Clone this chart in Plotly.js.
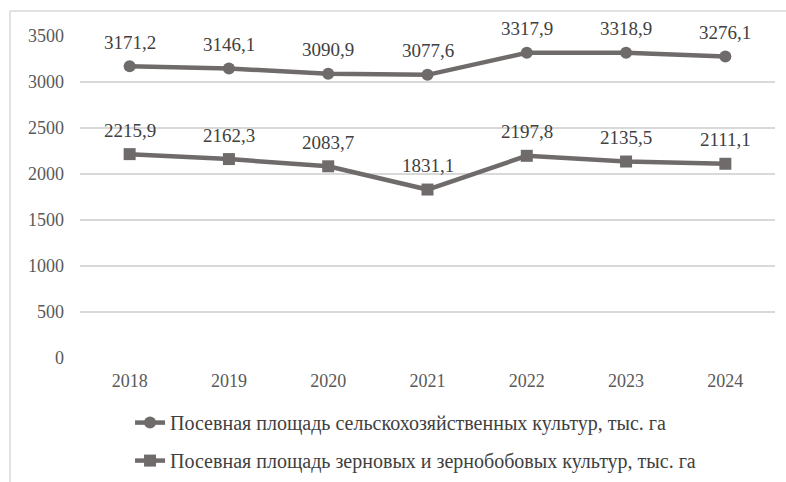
<!DOCTYPE html>
<html>
<head>
<meta charset="utf-8">
<script src="https://cdn.plot.ly/plotly-3.0.1.min.js"></script>
<style>html,body{margin:0;padding:0;background:#fff;}#chart{width:786px;height:482px;}</style>
</head>
<body>
<div id="chart"></div>
<script>
const years = ['2018', '2019', '2020', '2021', '2022', '2023', '2024'];
const totalArea = [3171.2, 3146.1, 3090.9, 3077.6, 3317.9, 3318.9, 3276.1];
const grainArea = [2215.9, 2162.3, 2083.7, 1831.1, 2197.8, 2135.5, 2111.1];
const seriesNames = [
  'Посевная площадь сельскохозяйственных культур, тыс. га',
  'Посевная площадь зерновых и зернобобовых культур, тыс. га'
];
const yTicks = [0, 500, 1000, 1500, 2000, 2500, 3000, 3500];

const lineColor = '#706b6b';
const fmt = v => v.toFixed(1).replace('.', ',');
const font = 'Liberation Serif';

const traces = [
  {x: years, y: totalArea, name: seriesNames[0], type: 'scatter', mode: 'lines+markers', legendgroup: 'a',
   line: {color: lineColor, width: 4.5}, marker: {symbol: 'circle', size: 12, color: lineColor}},
  {x: years, y: grainArea, name: seriesNames[1], type: 'scatter', mode: 'lines+markers', legendgroup: 'b',
   line: {color: lineColor, width: 4.5}, marker: {symbol: 'square', size: 12, color: lineColor}}
];

const annotations = [];
[totalArea, grainArea].forEach(arr => {
  arr.forEach((v, i) => {
    annotations.push({x: i, y: v, xref: 'x', yref: 'y', text: fmt(v), showarrow: false,
      yshift: 24, font: {family: font, size: 19, color: '#404040'}});
  });
});

const layout = {
  width: 786, height: 482,
  margin: {l: 80, r: 11, t: 36, b: 124, autoexpand: false},
  paper_bgcolor: '#fff', plot_bgcolor: '#fff',
  font: {family: font, size: 18, color: '#595959'},
  xaxis: {type: 'category', range: [-0.5, 6.5], showgrid: false, zeroline: false, showline: false,
          ticks: '', ticklabelstandoff: 10, tickfont: {family: font, size: 18, color: '#595959'}, fixedrange: true},
  yaxis: {range: [0, 3500], tickvals: yTicks, ticktext: yTicks.map(String), showgrid: true,
          gridcolor: '#d9d9d9', gridwidth: 1.5, zeroline: false, showline: false, ticks: '',
          ticklabelstandoff: 15, tickfont: {family: font, size: 18, color: '#595959'}, fixedrange: true},
  showlegend: true,
  legend: {orientation: 'v', x: 0.072, xanchor: 'left', y: -0.14, yanchor: 'top',
           font: {family: font, size: 20, color: '#404040'}, tracegroupgap: 9,
           bgcolor: 'rgba(0,0,0,0)'},
  annotations: annotations,
  shapes: [
    {type: 'line', xref: 'paper', yref: 'paper', x0: -0.1007, x1: -0.1007, y0: 1.0776, y1: -0.6,
     line: {color: '#d9d9d9', width: 1.5}},
    {type: 'line', xref: 'paper', yref: 'paper', x0: -0.1007, x1: 1.05, y0: 1.0776, y1: 1.0776,
     line: {color: '#d9d9d9', width: 1.5}}
  ]
};

Plotly.newPlot('chart', traces, layout, {displayModeBar: false, staticPlot: true});
</script>
</body>
</html>
